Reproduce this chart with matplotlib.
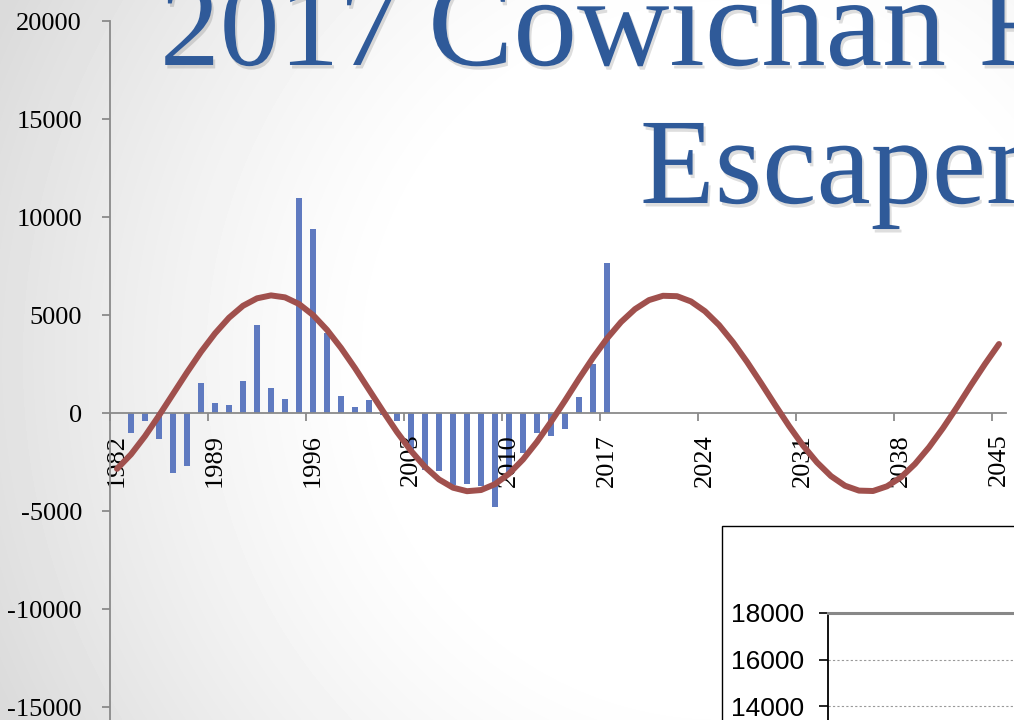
import numpy as np
import matplotlib
matplotlib.use('Agg')
import matplotlib.pyplot as plt
import matplotlib.patheffects as pe
from matplotlib.patches import Rectangle

plt.rcParams['font.family'] = 'Liberation Serif'
plt.rcParams['axes.unicode_minus'] = False

# ---- data ----
years = list(range(1982, 2046))
bar_years = list(range(1982, 2018))
deviation = [0, -1000, -390, -1340, -3080, -2700, 1510, 530, 390, 1620,
             4470, 1280, 700, 10950, 9370, 4100, 870, 290, 660, -100,
             -390, -1900, -2900, -2950, -3650, -3620, -3700, -4780, -3000, -2060,
             -1000, -1170, -830, 830, 2500, 7650]
cycle = [-2850, -2110, -1180, -130, 970, 2070, 3120, 4060, 4860, 5470,
         5850, 6000, 5900, 5560, 5000, 4240, 3320, 2290, 1190, 90,
         -970, -1930, -2750, -3390, -3810, -3990, -3930, -3630, -3100, -2370,
         -1470, -450, 630, 1750, 2820, 3800, 4640, 5300, 5760, 5980,
         5960, 5690, 5190, 4490, 3610, 2610, 1530, 420, -660, -1660,
         -2520, -3220, -3710, -3960, -3980, -3740, -3280, -2600, -1750, -770,
         300, 1420, 2500, 3520]
y_ticks = [-20000, -15000, -10000, -5000, 0, 5000, 10000, 15000, 20000]
inset_ticks = [0, 2000, 4000, 6000, 8000, 10000, 12000, 14000, 16000, 18000]
title_parts = ['2017', 'Cowichan River', 'Escapement']

W, H = 1014, 720
def fr(x0, y0, x1, y1):
    return [x0 / W, 1 - y1 / H, (x1 - x0) / W, (y1 - y0) / H]

fig = plt.figure(figsize=(W / 100, H / 100), dpi=100)

# slide background: soft grey vignette toward the left
bg = fig.add_axes([0, 0, 1, 1], zorder=-10)
gx, gy = np.meshgrid(np.arange(W), np.arange(H))
d = np.hypot(gx - 720, gy - 360)
t = np.clip((d - 330) / 460, 0, 1)
shade = 255 - 36 * t ** 1.3
bg.imshow(shade, cmap='gray', vmin=0, vmax=255, aspect='auto',
          extent=[0, W, H, 0])
bg.axis('off')

# main chart
ax = fig.add_axes(fr(110, 21, 1006, 805))
ax.set_facecolor('none')
x = np.arange(len(years))
ax.bar(x[:len(bar_years)], deviation, width=0.45, color='#5F7AC0', zorder=1)
ax.plot(x, cycle, color='#A0504D', lw=4.3, zorder=3,
        solid_capstyle='round', solid_joinstyle='round')
ax.set_xlim(-0.5, len(years) - 0.5)
ax.set_ylim(-20000, 20000)

for s in ['top', 'right']:
    ax.spines[s].set_visible(False)
ax.spines['bottom'].set_position(('data', 0))
for s in ['bottom', 'left']:
    ax.spines[s].set_color('#8a8a8a')
    ax.spines[s].set_linewidth(1.3)
    ax.spines[s].set_zorder(2.5)

ax.set_yticks(y_ticks)
ax.set_yticklabels([str(v) for v in y_ticks])
ax.tick_params(axis='y', length=5.8, width=1.3, color='#8a8a8a',
               pad=14.4, labelsize=19)

ax.set_xticks(x[::7])
ax.set_xticklabels([str(years[i]) for i in x[::7]], rotation=90)
ax.set_xticks(x[::7] - 0.5, minor=True)
ax.tick_params(axis='x', which='major', length=0, pad=15, labelsize=19)
ax.tick_params(axis='x', which='minor', length=5.8, width=1.3,
               color='#8a8a8a', direction='out')

# title (runs off the slide on the right)
shadow = [pe.SimplePatchShadow(offset=(1.5, -2.5), shadow_rgbFace='k', alpha=0.13),
          pe.Normal()]
blue = '#2F5A99'
fig.text(160 / W, 1 - 65 / H, title_parts[0], fontsize=86, color=blue,
         va='baseline', ha='left', path_effects=shadow, zorder=4)
fig.text(428 / W, 1 - 65 / H, title_parts[1], fontsize=92, color=blue,
         va='baseline', ha='left', path_effects=shadow, zorder=4)
fig.text(640 / W, 1 - 203 / H, title_parts[2], fontsize=88, color=blue,
         va='baseline', ha='left', path_effects=shadow, zorder=4)

# second chart peeking in at bottom right
box = Rectangle((722 / W, 1 - 760 / H), 400 / W, 234 / H,
                transform=fig.transFigure, facecolor='white',
                edgecolor='black', lw=1.0, zorder=5)
fig.add_artist(box)

ax2 = fig.add_axes(fr(828, 613, 1100, 1033), zorder=6)
ax2.set_facecolor('white')
ax2.set_ylim(0, 18000)
ax2.set_xlim(0, 1)
ax2.set_xticks([])
ax2.set_yticks(inset_ticks)
ax2.set_yticklabels([str(v) for v in inset_ticks], family='Liberation Sans')
ax2.tick_params(axis='y', length=6.5, width=1.2, color='black', pad=11,
                labelsize=19)
ax2.yaxis.grid(True, linestyle=(0, (2, 2)), color='#999999', lw=0.8)
ax2.spines['top'].set_color('#888888')
ax2.spines['top'].set_linewidth(2.2)
ax2.spines['left'].set_color('black')
ax2.spines['left'].set_linewidth(1.3)
ax2.spines['right'].set_visible(False)
ax2.spines['bottom'].set_visible(False)

fig.savefig('out.png', dpi=100)
